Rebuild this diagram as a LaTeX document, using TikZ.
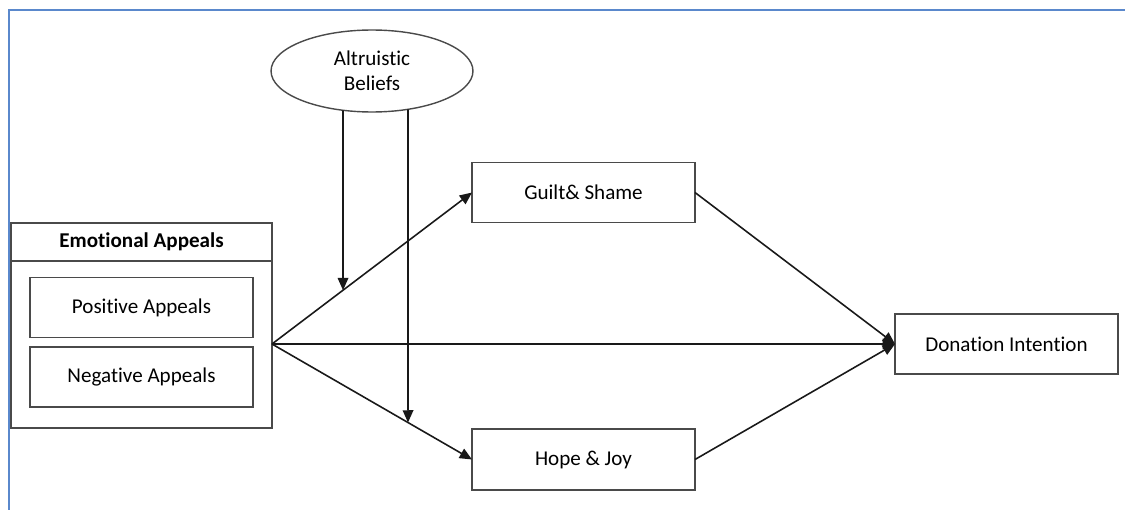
\documentclass[tikz,border=0pt]{standalone}
\usepackage{fontspec}
\setmainfont{Carlito}[Ligatures=NoCommon]
\usetikzlibrary{arrows.meta,shapes.geometric,intersections}
\definecolor{frameblue}{HTML}{5A88CC}
\definecolor{boxline}{HTML}{4A4A4A}
\begin{document}
\begin{tikzpicture}[x=0.02cm,y=-0.02cm,
  every node/.style={font=\fontsize{12}{14.5}\selectfont, inner sep=0pt, outer sep=0pt},
  box/.style={draw=boxline, line width=0.8pt, minimum width=4.46cm, minimum height=1.19cm, align=center},
  conn/.style={line width=0.9pt, draw=black!90},
  arr/.style={conn, -{Triangle[length=7pt,width=6pt]}}]
\useasboundingbox (0,0) rectangle (1125,510);
% blue frame
\draw[frameblue, line width=1.2pt] (9,510) -- (9,10) -- (1125,10);

% outer group
\node[draw=boxline, line width=0.8pt, minimum width=5.22cm, minimum height=4.1cm] (ea) at (141.5,325.5) {};
\draw[boxline, line width=0.8pt] (ea.west |- 0,261) -- (ea.east |- 0,261);
\node[font=\fontsize{12}{14.5}\selectfont\bfseries] (eat) at (141.5,242) {Emotional Appeals};
\node[box] (pos) at (141.5,307.5) {Positive Appeals};
\node[box, minimum height=1.2cm] (neg) at (141.5,377) {Negative Appeals};

\node[box] (guilt) at (583.5,192.5) {Guilt\& Shame};
\node[box, minimum height=1.22cm] (hope) at (583.5,459.5) {Hope \& Joy};
\node[box, minimum height=1.2cm] (don) at (1006.5,344) {Donation Intention};

\node[draw=boxline, line width=0.8pt, ellipse, minimum width=4.04cm, minimum height=1.64cm, align=center, name path=altp] (alt) at (372,71) {Altruistic\\Beliefs};

\coordinate (o) at (ea.east |- 0,344);
\coordinate (dw) at (don.west);

\draw[arr] (o) -- (guilt.west);
\draw[arr] (o) -- (hope.west);
\draw[arr] (o) -- (dw);
\draw[arr] (guilt.east) -- (dw);
\draw[arr] (hope.east) -- (dw);

\path[name path=v1] (343,71) -- (343,400);
\path[name path=v2] (408,71) -- (408,500);
\path[name intersections={of=altp and v1, by=v1s}];
\path[name intersections={of=altp and v2, by=v2s}];
\draw[arr] (v1s) -- (intersection of o--guilt.west and v1s--343,400);
\draw[arr] (v2s) -- (intersection of o--hope.west and v2s--408,500);
\end{tikzpicture}
\end{document}
